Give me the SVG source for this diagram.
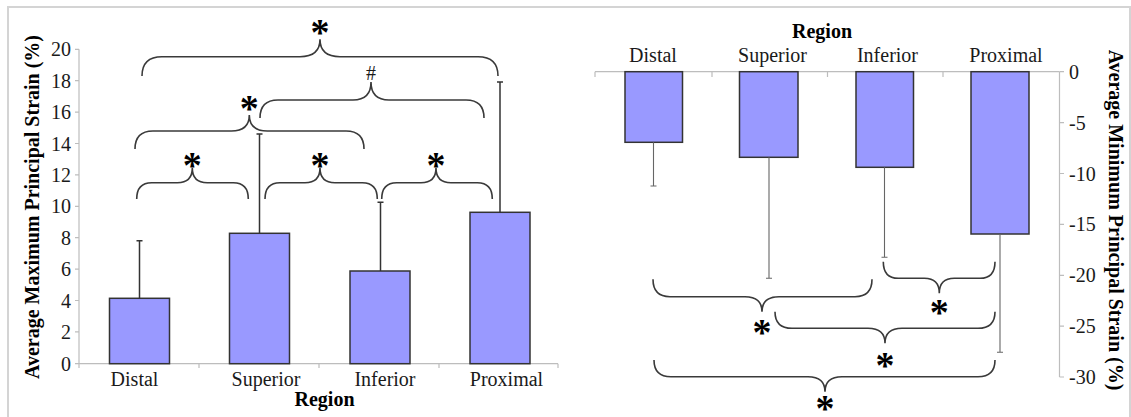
<svg xmlns="http://www.w3.org/2000/svg" width="1131" height="417" viewBox="0 0 1131 417">
  <style>
    .frame { fill: #ffffff; stroke: #d4d4d4; stroke-width: 2; }
    .axis { fill: none; stroke: #bdbdbd; stroke-width: 1.2; }
    .bar { fill: #9999ff; stroke: #333333; stroke-width: 1.5; }
    .err { fill: none; stroke: #333333; stroke-width: 1.5; }
    .err2 { fill: none; stroke: #666666; stroke-width: 1.1; }
    .brace { fill: none; stroke: #3a3a3a; stroke-width: 1.6; }
    text { font-family: "Liberation Serif", "Times New Roman", serif; fill: #1a1a1a; }
    .tick { font-size: 20px; }
    .cat { font-size: 20px; }
    .title { font-size: 20px; font-weight: bold; fill: #000000; }
    .star { font-size: 38px; font-weight: bold; fill: #000000; text-anchor: middle; }
    .hash { font-size: 20px; text-anchor: middle; }
  </style>

  <rect class="frame" x="8" y="7" width="1122" height="420"/>

  <!-- Left chart: average maximum principal strain -->
  <g id="left-axes">
    <path class="axis" d="M79,49.3 V368 M79,363.7 H558 M199,363.7 V368 M319,363.7 V368 M439,363.7 V368 M558,363.7 V368"/>
    <path class="axis" d="M75,49.3 H79 M75,80.7 H79 M75,112.1 H79 M75,143.5 H79 M75,174.9 H79 M75,206.3 H79 M75,237.7 H79 M75,269.1 H79 M75,300.5 H79 M75,331.9 H79 M75,363.7 H79"/>
    <g class="tick" text-anchor="end">
      <text x="71" y="56.3">20</text>
      <text x="71" y="87.7">18</text>
      <text x="71" y="119.1">16</text>
      <text x="71" y="150.5">14</text>
      <text x="71" y="181.9">12</text>
      <text x="71" y="213.3">10</text>
      <text x="71" y="244.7">8</text>
      <text x="71" y="276.1">6</text>
      <text x="71" y="307.5">4</text>
      <text x="71" y="338.9">2</text>
      <text x="71" y="370.7">0</text>
    </g>
    <text class="title" text-anchor="middle" transform="translate(39,207) rotate(-90)">Average Maximum Principal Strain (%)</text>
    <g class="cat" text-anchor="middle">
      <text x="134.5" y="386">Distal</text>
      <text x="266" y="386">Superior</text>
      <text x="385" y="386">Inferior</text>
      <text x="506.5" y="386">Proximal</text>
    </g>
    <text class="title" text-anchor="middle" x="324.5" y="406">Region</text>
  </g>

  <g id="left-distal">
    <rect class="bar" x="109.5" y="298.3" width="60" height="65.4"/>
    <path class="err" d="M139.5,298.3 V240.7 M136.5,240.7 H142.5"/>
  </g>
  <g id="left-superior">
    <rect class="bar" x="229.5" y="233.3" width="60" height="130.4"/>
    <path class="err" d="M259.5,233.3 V134 M256.5,134 H262.5"/>
  </g>
  <g id="left-inferior">
    <rect class="bar" x="350" y="271" width="60" height="92.7"/>
    <path class="err" d="M380.5,271 V202.3 M377.5,202.3 H383.5"/>
  </g>
  <g id="left-proximal">
    <rect class="bar" x="470" y="212.3" width="60" height="151.4"/>
    <path class="err" d="M500,212.3 V82 M497,82 H503"/>
  </g>

  <!-- significance braces, left chart -->
  <g id="left-braces">
    <path class="brace" d="M142,76 Q142,56.7 162,56.7 L300,56.7 Q320,56.7 320,39.3 Q320,56.7 340,56.7 L478,56.7 Q498,56.7 498,76"/>
    <text class="star" x="320" y="45">*</text>
    <path class="brace" d="M260,118 Q260,100 278,100 L353,100 Q371,100 371,82 Q371,100 389,100 L466,100 Q484,100 484,118"/>
    <text class="hash" x="371" y="80">#</text>
    <path class="brace" d="M135,149 Q135,131 153,131 L231.3,131 Q249.3,131 249.3,115 Q249.3,131 267.3,131 L346,131 Q364,131 364,149"/>
    <text class="star" x="249.3" y="121">*</text>
    <path class="brace" d="M136.7,199 Q136.7,182.7 151.7,182.7 L177.3,182.7 Q192.3,182.7 192.3,168 Q192.3,182.7 207.3,182.7 L233.3,182.7 Q248.3,182.7 248.3,199"/>
    <text class="star" x="192.3" y="178">*</text>
    <path class="brace" d="M265,199 Q265,182.7 280,182.7 L305,182.7 Q320,182.7 320,168 Q320,182.7 335,182.7 L362.3,182.7 Q377.3,182.7 377.3,199"/>
    <text class="star" x="320" y="178">*</text>
    <path class="brace" d="M381.7,199 Q381.7,182.7 396.7,182.7 L421,182.7 Q436,182.7 436,168 Q436,182.7 451,182.7 L477.3,182.7 Q492.3,182.7 492.3,199"/>
    <text class="star" x="436" y="178">*</text>
  </g>

  <!-- Right chart: average minimum principal strain -->
  <g id="right-axes">
    <path class="axis" d="M595,71.7 H1059.5 M595,71.7 V77 M712,71.7 V77 M827.5,71.7 V77 M943,71.7 V77 M1059.5,71.7 V377"/>
    <path class="axis" d="M1059.5,71.7 H1064 M1059.5,122.6 H1064 M1059.5,173.5 H1064 M1059.5,224.4 H1064 M1059.5,275.3 H1064 M1059.5,326.2 H1064 M1059.5,377 H1064"/>
    <g class="tick" text-anchor="start">
      <text x="1069" y="78.7">0</text>
      <text x="1069" y="129.6">-5</text>
      <text x="1069" y="180.5">-10</text>
      <text x="1069" y="231.4">-15</text>
      <text x="1069" y="282.3">-20</text>
      <text x="1069" y="333.2">-25</text>
      <text x="1069" y="384">-30</text>
    </g>
    <text class="title" text-anchor="middle" transform="translate(1109,220) rotate(90)">Average Minimum Principal Strain (%)</text>
    <g class="cat" text-anchor="middle">
      <text x="653" y="62">Distal</text>
      <text x="772.5" y="62">Superior</text>
      <text x="887.5" y="62">Inferior</text>
      <text x="1006" y="62">Proximal</text>
    </g>
    <text class="title" text-anchor="middle" x="822" y="38">Region</text>
  </g>

  <g id="right-distal">
    <rect class="bar" x="625" y="71.7" width="57.5" height="70.6"/>
    <path class="err2" d="M653.5,142.3 V186 M650.5,186 H656.5"/>
  </g>
  <g id="right-superior">
    <rect class="bar" x="739.5" y="71.7" width="58.5" height="85.6"/>
    <path class="err2" d="M769,157.3 V278.3 M766,278.3 H772"/>
  </g>
  <g id="right-inferior">
    <rect class="bar" x="856" y="71.7" width="57.5" height="95.6"/>
    <path class="err2" d="M884.5,167.3 V257.3 M881.5,257.3 H887.5"/>
  </g>
  <g id="right-proximal">
    <rect class="bar" x="971" y="71.7" width="58" height="162.3"/>
    <path class="err2" d="M1000,234 V352.3 M997,352.3 H1003"/>
  </g>

  <!-- significance braces, right chart -->
  <g id="right-braces">
    <path class="brace" d="M653,279.3 Q653,296.7 670,296.7 L745,296.7 Q762,296.7 762,311.7 Q762,296.7 779,296.7 L855,296.7 Q872,296.7 872,279.3"/>
    <text class="star" x="762" y="344.7">*</text>
    <path class="brace" d="M883.3,261.7 Q883.3,278.3 898.3,278.3 L924.3,278.3 Q939.3,278.3 939.3,293.3 Q939.3,278.3 954.3,278.3 L980,278.3 Q995,278.3 995,261.7"/>
    <text class="star" x="939.3" y="324.7">*</text>
    <path class="brace" d="M775,311.7 Q775,328.3 792,328.3 L868,328.3 Q885,328.3 885,343.3 Q885,328.3 902,328.3 L978,328.3 Q995,328.3 995,311.7"/>
    <text class="star" x="885" y="378">*</text>
    <path class="brace" d="M654,360 Q654,376.7 671,376.7 L808,376.7 Q825,376.7 825,391.7 Q825,376.7 842,376.7 L978,376.7 Q995,376.7 995,360"/>
    <text class="star" x="825" y="421">*</text>
  </g>
</svg>
